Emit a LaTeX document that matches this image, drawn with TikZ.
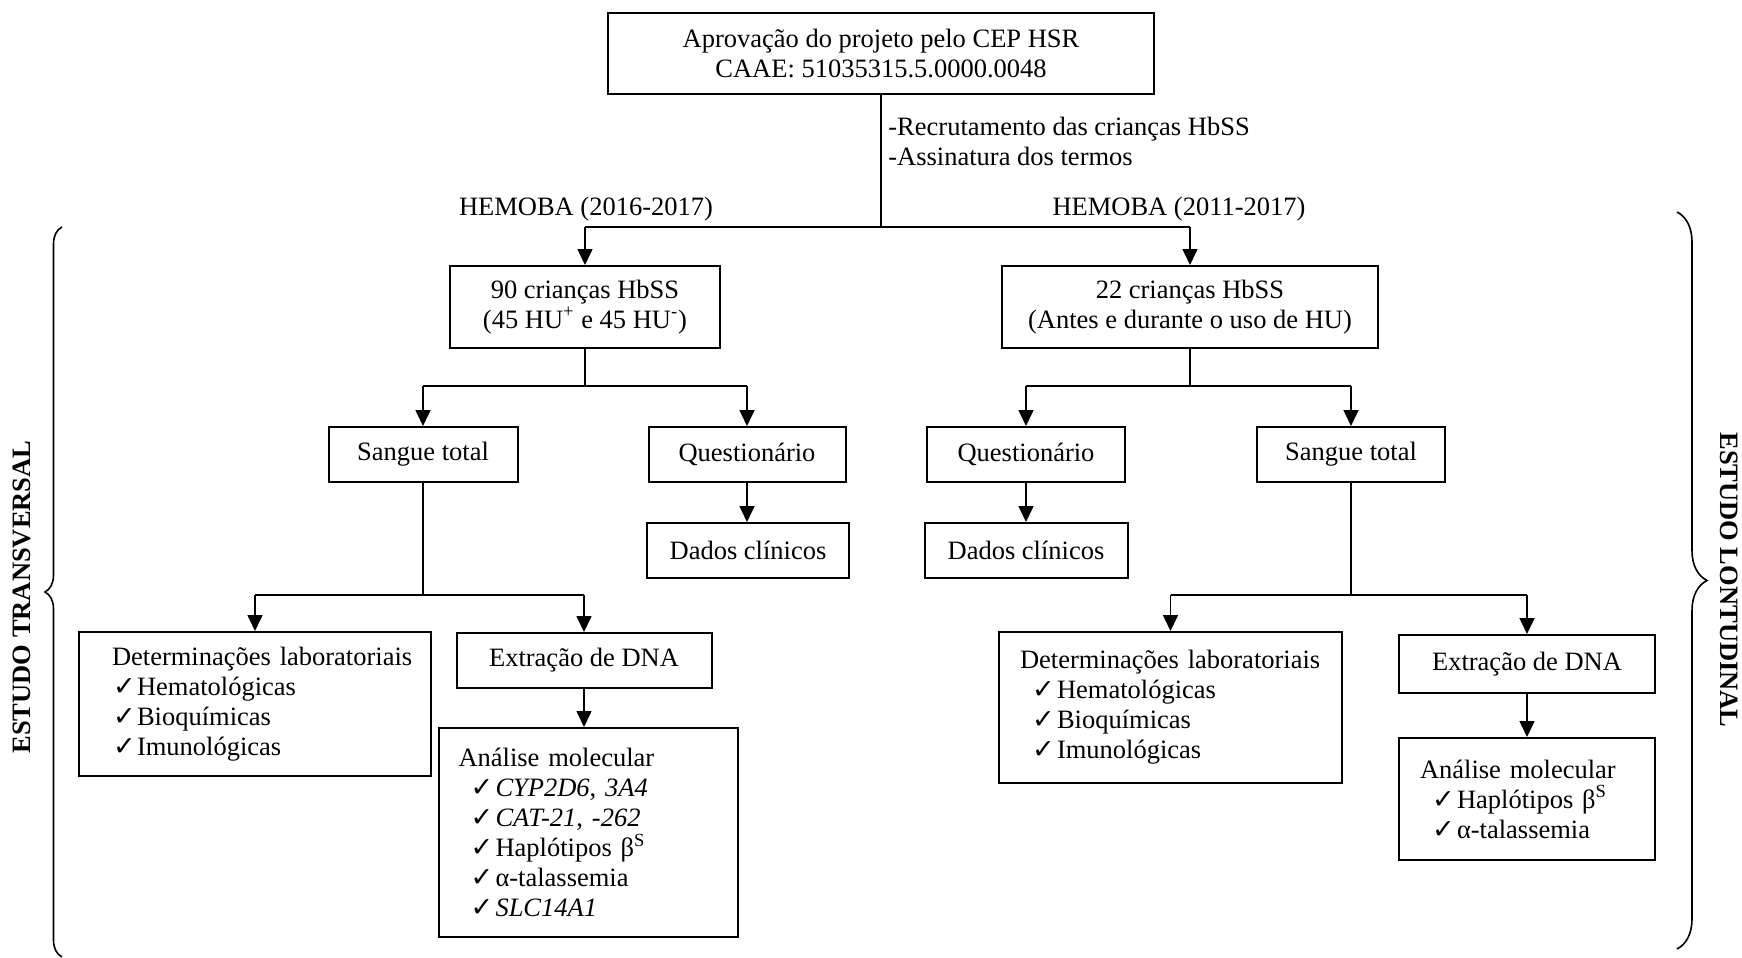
\documentclass[tikz,border=0pt]{standalone}
\usepackage{fontspec}
\setmainfont{Liberation Serif}
\newfontfamily\checkfont{DejaVu Sans}
\usetikzlibrary{arrows.meta,decorations.pathreplacing}
\newcommand{\ckm}{{\checkfont\fontsize{13.5}{15}\selectfont ✓}}
\newcommand{\itm}[1]{\hspace*{6pt}\makebox[12.5pt][l]{\ckm}#1}
\newcommand{\itmb}[1]{\hspace*{6.5pt}\makebox[12pt][l]{\ckm}#1}
\begin{document}
\begin{tikzpicture}[x=0.5pt,y=-0.5pt,
  every node/.style={font=\fontsize{13.25}{15}\selectfont},
  box/.style={draw,line width=1pt,align=center,inner sep=0pt},
  lbox/.style={draw,line width=1pt,align=left,inner ysep=0pt},
  arr/.style={line width=0.8pt,-{Triangle[length=8pt,width=7.5pt]}},
  ln/.style={line width=0.8pt},
  side/.style={font=\fontsize{13.25}{15}\selectfont\bfseries}]
\useasboundingbox (0,0) rectangle (1742,958);
% top
\node[box,minimum width=273pt,minimum height=40.5pt] (top) at (881,53.5) {Aprovação do projeto pelo CEP HSR\\CAAE: 51035315.5.0000.0048};
\node[anchor=west,align=left,inner sep=0pt] (rec) at (888,141) {-Recrutamento das crianças HbSS\\-Assinatura dos termos};
\node (hemL) at (586,209) {HEMOBA (2016-2017)};
\node (hemR) at (1179,209) {HEMOBA (2011-2017)};
% level 2
\node[box,minimum width=135pt,minimum height=41pt] (n90) at (585,307) {90 crianças HbSS\\(45 HU\textsuperscript{+} e 45 HU\textsuperscript{-})};
\node[box,minimum width=188pt,minimum height=41pt] (n22) at (1190,307) {22 crianças HbSS\\(Antes e durante o uso de HU)};
% level 3
\node[box,minimum width=94.5pt,minimum height=27.5pt] (stL) at (423,454.5) {Sangue total};
\node[box,minimum width=98.5pt,minimum height=27.5pt] (qL) at (747,454.5) {Questionário};
\node[box,minimum width=101pt,minimum height=27.5pt] (dL) at (748,550.5) {Dados clínicos};
\node[box,minimum width=99pt,minimum height=27.5pt] (qR) at (1026,454.5) {Questionário};
\node[box,minimum width=101.5pt,minimum height=27.5pt] (dR) at (1026,550.5) {Dados clínicos};
\node[box,minimum width=94pt,minimum height=27.5pt] (stR) at (1351,454.5) {Sangue total};
% level 4 left
\node[lbox,inner xsep=10.5pt,text width=155pt,minimum height=72pt] (detL) at (255,704) {\hspace*{6pt}\mbox{Determinações laboratoriais}\\\itmb{Hematológicas}\\\itmb{Bioquímicas}\\\itmb{Imunológicas}};
\node[box,minimum width=127.5pt,minimum height=27.5pt] (extL) at (584,660.5) {Extração de DNA};
\node[lbox,inner xsep=10pt,text width=129.5pt,minimum height=104.5pt] (anL) at (588,832.5) {Análise molecular\\\itm{\textit{CYP2D6}, \textit{3A4}}\\\itm{\textit{CAT-21}, \textit{-262}}\\\itm{Haplótipos β\textsuperscript{S}}\\\itm{α-talassemia}\\\itm{\textit{SLC14A1}}};
% level 4 right
\node[lbox,inner xsep=10.5pt,text width=150.5pt,minimum height=75.5pt] (detR) at (1170.5,707.5) {\mbox{Determinações laboratoriais}\\\itm{Hematológicas}\\\itm{Bioquímicas}\\\itm{Imunológicas}};
\node[box,minimum width=128pt,minimum height=29pt] (extR) at (1527,664) {Extração de DNA};
\node[lbox,inner xsep=10.5pt,text width=107pt,minimum height=61pt] (anR) at (1527,799) {Análise molecular\\\itm{Haplótipos β\textsuperscript{S}}\\\itm{α-talassemia}};
% connectors top
\coordinate (jL) at (585,227);
\coordinate (jR) at (1190,227);
\draw[ln] (top.south) -- (top.south |- jL);
\draw[ln] (jL) -- (jR);
\draw[arr] (jL) -- (n90.north);
\draw[arr] (jR) -- (n22.north);
% level 3 connectors
\coordinate (bL) at (585,386);
\coordinate (bR) at (1190,386);
\draw[ln] (n90.south) -- (bL);
\draw[ln] (n22.south) -- (bR);
\draw[ln] (stL.north |- bL) -- (qL.north |- bL);
\draw[ln] (qR.north |- bR) -- (stR.north |- bR);
\draw[arr] (stL.north |- bL) -- (stL.north);
\draw[arr] (qL.north |- bL) -- (qL.north);
\draw[arr] (qR.north |- bR) -- (qR.north);
\draw[arr] (stR.north |- bR) -- (stR.north);
\draw[arr] (qL.south) -- (qL.south |- dL.north);
\draw[arr] (qR.south) -- (qR.south |- dR.north);
% level 4 connectors
\coordinate (cL) at (423,595);
\coordinate (cR) at (1351,595);
\draw[ln] (stL.south) -- (cL);
\draw[ln] (stR.south) -- (cR);
\draw[ln] (detL.north |- cL) -- (extL.north |- cL);
\draw[ln] (detR.north |- cR) -- (extR.north |- cR);
\draw[arr] (detL.north |- cL) -- (detL.north);
\draw[arr] (extL.north |- cL) -- (extL.north);
\draw[arr] (detR.north |- cR) -- (detR.north);
\draw[arr] (extR.north |- cR) -- (extR.north);
\draw[arr] (extL.south) -- (extL.south |- anL.north);
\draw[arr] (extR.south) -- (extR.south |- anR.north);
% braces
\coordinate (lb1) at (62,957);
\coordinate (lb2) at (62,227);
\coordinate (rb1) at (1677,212);
\coordinate (rb2) at (1677,949);
\draw[line width=0.8pt,decorate,decoration={brace,amplitude=8.5pt}] (lb1) -- (lb2);
\draw[line width=0.8pt,decorate,decoration={brace,amplitude=15pt}] (rb1) -- (rb2);
\node[side,rotate=90] (estT) at (22,597) {ESTUDO TRANSVERSAL};
\node[side,rotate=-90] (estL) at (1729,580) {ESTUDO LONTUDINAL};
\end{tikzpicture}
\end{document}
